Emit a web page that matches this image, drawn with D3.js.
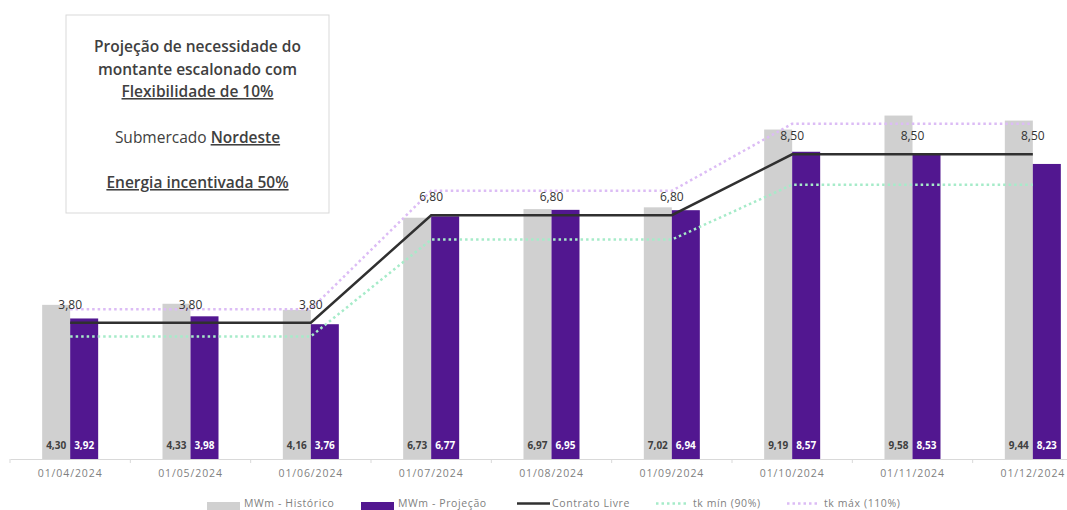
<!DOCTYPE html>
<html>
<head>
<meta charset="utf-8">
<script src="https://cdn.jsdelivr.net/npm/d3@7"></script>
<style>
  body { margin: 0; background: #fff; }
  svg { display: block; font-family: "Open Sans", sans-serif; }
</style>
</head>
<body>
<svg id="chart" width="1067" height="510"></svg>
<script>
// data
var months = ["01/04/2024", "01/05/2024", "01/06/2024", "01/07/2024", "01/08/2024",
              "01/09/2024", "01/10/2024", "01/11/2024", "01/12/2024"];
var historico = [4.30, 4.33, 4.16, 6.73, 6.97, 7.02, 9.19, 9.58, 9.44];
var projecao  = [3.92, 3.98, 3.76, 6.77, 6.95, 6.94, 8.57, 8.53, 8.23];
var contrato  = [3.80, 3.80, 3.80, 6.80, 6.80, 6.80, 8.50, 8.50, 8.50];
var tkMin     = [3.42, 3.42, 3.42, 6.12, 6.12, 6.12, 7.65, 7.65, 7.65];
var tkMax     = [4.18, 4.18, 4.18, 7.48, 7.48, 7.48, 9.35, 9.35, 9.35];
var legendNames = ["MWm - Histórico", "MWm - Projeção", "Contrato Livre", "tk mín (90%)", "tk máx (110%)"];

var fmt = function(v) { return d3.format(".2f")(v).replace(".", ","); };

var svg = d3.select("#chart");

var x = d3.scaleBand().domain(months).range([10, 1093]).paddingInner(0).paddingOuter(0);
var y = d3.scaleLinear().domain([0, 12]).range([459, 28.8]);
var barW = 28;

var rows = months.map(function(m, i) {
  return { m: m, h: historico[i], p: projecao[i], c: contrato[i], lo: tkMin[i], hi: tkMax[i] };
});
var cx = function(d) { return x(d.m) + x.bandwidth() / 2; };

// bars
svg.append("g").selectAll("rect").data(rows).join("rect")
  .attr("x", function(d) { return cx(d) - barW; })
  .attr("y", function(d) { return y(d.h); })
  .attr("width", barW)
  .attr("height", function(d) { return y(0) - y(d.h); })
  .attr("fill", "#d0d0d0");

svg.append("g").selectAll("rect").data(rows).join("rect")
  .attr("x", function(d) { return cx(d); })
  .attr("y", function(d) { return y(d.p); })
  .attr("width", barW)
  .attr("height", function(d) { return y(0) - y(d.p); })
  .attr("fill", "#521790");

// values inside bars
svg.append("g").selectAll("text").data(rows).join("text")
  .attr("x", function(d) { return cx(d) - barW / 2; })
  .attr("y", 449)
  .attr("text-anchor", "middle")
  .attr("font-size", 10).attr("font-weight", "bold")
  .attr("fill", "#404040")
  .text(function(d) { return fmt(d.h); });

svg.append("g").selectAll("text").data(rows).join("text")
  .attr("x", function(d) { return cx(d) + barW / 2; })
  .attr("y", 449)
  .attr("text-anchor", "middle")
  .attr("font-size", 10).attr("font-weight", "bold")
  .attr("fill", "#ffffff")
  .text(function(d) { return fmt(d.p); });

// lines
function addLine(key, color, width, dash) {
  svg.append("path").datum(rows)
    .attr("fill", "none")
    .attr("stroke", color)
    .attr("stroke-width", width)
    .attr("stroke-dasharray", dash)
    .attr("d", d3.line().x(cx).y(function(d) { return y(d[key]); }));
}
addLine("lo", "#a6ebc9", 2.5, "2.5,3");
addLine("hi", "#dcbcf5", 2.5, "2.5,3");
addLine("c", "#303030", 2.5, null);

// contract labels
svg.append("g").selectAll("text").data(rows).join("text")
  .attr("x", cx)
  .attr("y", function(d) { return y(d.c) - 14; })
  .attr("text-anchor", "middle")
  .attr("font-size", 12)
  .attr("fill", "#333333")
  .text(function(d) { return fmt(d.c); });

// x axis
var xAxis = svg.append("g").attr("transform", "translate(0,459)")
  .call(d3.axisBottom(x).tickSize(0).tickPadding(11));
xAxis.select(".domain").attr("stroke", "#d9d9d9");
xAxis.selectAll("text").attr("font-size", 10.5).attr("fill", "#7f7f7f")
  .attr("font-family", "Open Sans").attr("letter-spacing", 0.9);
xAxis.selectAll(".sep").data(months).join("line")
  .attr("class", "sep")
  .attr("x1", function(m) { return x(m); }).attr("x2", function(m) { return x(m); })
  .attr("y1", 0).attr("y2", 4)
  .attr("stroke", "#d9d9d9");

// legend
var legendX = [207, 361, 517, 656, 787];
var lg = svg.append("g");
legendNames.forEach(function(name, i) {
  var g = lg.append("g").attr("transform", "translate(" + legendX[i] + ",0)");
  if (i < 2) {
    g.append("rect").attr("x", 0).attr("y", 502).attr("width", 33).attr("height", 8)
      .attr("fill", i === 0 ? "#d0d0d0" : "#521790");
  } else {
    g.append("line").attr("x1", 0).attr("x2", 33).attr("y1", 503.5).attr("y2", 503.5)
      .attr("stroke", ["#303030", "#a6ebc9", "#dcbcf5"][i - 2])
      .attr("stroke-width", 2.5)
      .attr("stroke-dasharray", i === 2 ? null : "2.5,3");
  }
  g.append("text").attr("x", i === 2 ? 35 : 37).attr("y", 507)
    .attr("font-size", 10.5).attr("fill", "#7f7f7f").attr("letter-spacing", 0.6)
    .text(name);
});

// title box
svg.append("rect").attr("x", 66).attr("y", 15).attr("width", 263).attr("height", 198)
  .attr("fill", "#fff").attr("stroke", "#d9d9d9");
var tb = svg.append("g").attr("text-anchor", "middle").attr("fill", "#404040").attr("font-size", 15.5);
var tcx = 197.5;
tb.append("text").attr("x", tcx).attr("y", 52).attr("font-weight", 600).text("Projeção de necessidade do");
tb.append("text").attr("x", tcx).attr("y", 75).attr("font-weight", 600).text("montante escalonado com");
tb.append("text").attr("x", tcx).attr("y", 97).attr("font-weight", 600)
  .attr("text-decoration", "underline").text("Flexibilidade de 10%");
var sub = tb.append("text").attr("x", tcx).attr("y", 143);
sub.append("tspan").text("Submercado ");
sub.append("tspan").attr("font-weight", 600).attr("text-decoration", "underline").text("Nordeste");
tb.append("text").attr("x", tcx).attr("y", 188).attr("font-weight", 600)
  .attr("text-decoration", "underline").text("Energia incentivada 50%");
</script>
</body>
</html>
